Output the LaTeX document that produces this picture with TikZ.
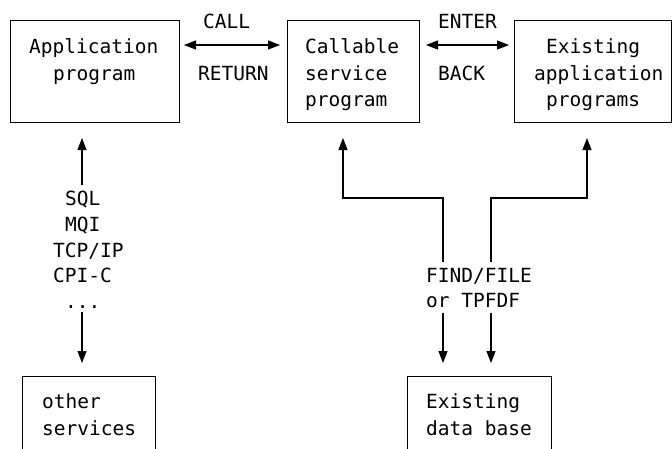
\documentclass[tikz,border=0pt]{standalone}
\usepackage{fontspec}
\setmainfont{DejaVu Sans Mono}
\usetikzlibrary{arrows.meta}
\tikzset{
  box/.style={draw,line width=1pt},
  txt/.style={anchor=base west,inner sep=0pt,font=\fontsize{19.5}{26}\selectfont},
  conn/.style={line width=1.1pt},
  arr/.style={conn,-{Triangle[length=12pt,width=9pt]}},
  darr/.style={conn,{Triangle[length=12pt,width=9pt]}-{Triangle[length=12pt,width=9pt]}}
}
\begin{document}
\begin{tikzpicture}[x=1pt,y=-1pt]
\useasboundingbox (0,0) rectangle (672,448);
\clip (0,0) rectangle (672,448);
% boxes
\draw[box] (10,20) rectangle (179,122); \node[inner sep=0] (app) at (94.5,71) {};
\draw[box] (287,20) rectangle (419,122); \node[inner sep=0] (csp) at (353,71) {};
\draw[box] (514,20) rectangle (671,122); \node[inner sep=0] (eap) at (592,71) {};
\draw[box] (22,376) rectangle (155,470); \node[inner sep=0] (oth) at (88,420) {};
\draw[box] (407,376) rectangle (551,470); \node[inner sep=0] (edb) at (479,420) {};
% box texts
\node[txt] (t1) at (29,53) {Application};
\node[txt] (t2) at (53,80.5) {program};
\node[txt] (t3) at (305,53) {Callable};
\node[txt] (t4) at (305,80) {service};
\node[txt] (t5) at (305,106.5) {program};
\node[txt] (t6) at (546,53) {Existing};
\node[txt] (t7) at (534,80) {application};
\node[txt] (t8) at (546,106.5) {programs};
\node[txt] (t9) at (42,408) {other};
\node[txt] (t10) at (42,435) {services};
\node[txt] (t11) at (426,408) {Existing};
\node[txt] (t12) at (426,435) {data base};
% connector labels
\node[txt] (lcall) at (203,28) {CALL};
\node[txt] (lret) at (198,80) {RETURN};
\node[txt] (lent) at (438,28) {ENTER};
\node[txt] (lback) at (438,80) {BACK};
\node[txt] (lsql) at (65,205) {SQL};
\node[txt] (lmqi) at (65,231) {MQI};
\node[txt] (ltcp) at (53,257) {TCP/IP};
\node[txt] (lcpi) at (53,282) {CPI-C};
\node[txt] (ldots) at (65,308) {...};
\node[txt] (lfind) at (426,282) {FIND/FILE};
\node[txt] (lor) at (426,307) {or TPFDF};
% coordinates
\coordinate (a1) at (184,45); \coordinate (a2) at (280,45);
\coordinate (b1) at (426,45); \coordinate (b2) at (509,45);
\coordinate (l1) at (82,185); \coordinate (l2) at (82,138);
\coordinate (l3) at (82,312); \coordinate (l4) at (82,363);
\coordinate (r1) at (443,262); \coordinate (r2) at (443,198); \coordinate (r3) at (343,198); \coordinate (r4) at (343,138);
\coordinate (s1) at (491,262); \coordinate (s2) at (491,198); \coordinate (s3) at (587,198); \coordinate (s4) at (587,138);
\coordinate (d1) at (443,313); \coordinate (d2) at (443,363);
\coordinate (e1) at (491,313); \coordinate (e2) at (491,363);
% connectors
\draw[darr] (a1) -- (a2);
\draw[darr] (b1) -- (b2);
\draw[arr] (l1) -- (l2);
\draw[arr] (l3) -- (l4);
\draw[arr] (r1) -- (r2) -- (r3) -- (r4);
\draw[arr] (s1) -- (s2) -- (s3) -- (s4);
\draw[arr] (d1) -- (d2);
\draw[arr] (e1) -- (e2);
\end{tikzpicture}
\end{document}
